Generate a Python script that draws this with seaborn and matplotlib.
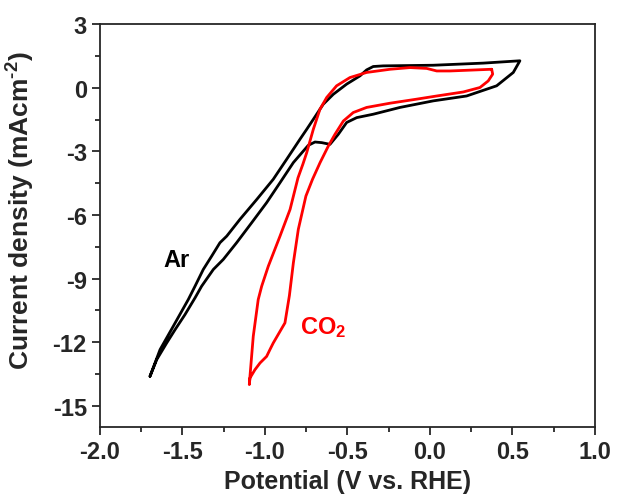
import pandas as pd
import matplotlib
matplotlib.use("Agg")
import matplotlib.pyplot as plt
import seaborn as sns
from matplotlib.ticker import MultipleLocator

# Cyclic voltammograms: potential (V vs. RHE) and current density (mA cm^-2)
ar_potential = [-1.697, -1.636, -1.556, -1.465, -1.424, -1.374, -1.323, -1.273, -1.232,
                -1.152, -1.050, -0.950, -0.869, -0.788, -0.747, -0.707, -0.647, -0.586,
                -0.505, -0.424, -0.384, -0.344, -0.283, 0.020, 0.323, 0.545,
                0.505, 0.404, 0.222, 0.020, -0.182, -0.344, -0.444, -0.505, -0.556,
                -0.606, -0.656, -0.697, -0.738, -0.828, -0.909, -0.990, -1.081, -1.172,
                -1.253, -1.313, -1.384, -1.424, -1.485, -1.545, -1.596, -1.656, -1.697]
ar_current = [-13.61, -12.35, -11.25, -9.99, -9.36, -8.57, -7.94, -7.31, -7.00,
              -6.21, -5.27, -4.32, -3.38, -2.43, -1.96, -1.49, -0.78, -0.31,
              0.17, 0.56, 0.84, 1.00, 1.03, 1.06, 1.16, 1.27,
              0.72, 0.09, -0.39, -0.62, -0.93, -1.25, -1.41, -1.64, -2.20,
              -2.67, -2.59, -2.56, -2.72, -3.53, -4.48, -5.42, -6.37, -7.31,
              -8.10, -8.57, -9.36, -9.91, -10.70, -11.41, -12.04, -12.82, -13.61]

co2_potential = [0.374, 0.121, 0.041, -0.020, -0.121, -0.242, -0.384, -0.485, -0.566,
                 -0.626, -0.667, -0.707, -0.747, -0.770, -0.800, -0.848, -0.909, -0.980,
                 -1.020, -1.041, -1.071, -1.091, -1.095,
                 -1.091, -1.061, -1.030, -0.990, -0.970, -0.950, -0.879, -0.852, -0.828,
                 -0.798, -0.752, -0.712, -0.666, -0.616, -0.576, -0.525, -0.465, -0.384,
                 -0.242, -0.081, 0.041, 0.202, 0.303, 0.353, 0.380, 0.374]
co2_current = [0.87, 0.79, 0.79, 0.91, 0.95, 0.87, 0.72, 0.48, 0.09,
               -0.46, -1.02, -1.96, -3.06, -3.60, -4.25, -5.74, -7.00, -8.42,
               -9.36, -9.99, -11.72, -13.61, -14.00,
               -13.69, -13.30, -12.98, -12.67, -12.35, -12.04, -11.09, -9.80, -8.26,
               -6.68, -5.11, -4.32, -3.53, -2.75, -2.20, -1.57, -1.17, -0.93,
               -0.73, -0.54, -0.39, -0.20, 0.01, 0.32, 0.64, 0.87]

gas_names = ["Ar", "CO$_\\mathbf{2}$"]
x_ticks = [-2.0, -1.5, -1.0, -0.5, 0.0, 0.5, 1.0]
y_ticks = [3, 0, -3, -6, -9, -12, -15]

df = pd.concat([
    pd.DataFrame({"E": ar_potential, "j": ar_current, "gas": "Ar"}),
    pd.DataFrame({"E": co2_potential, "j": co2_current, "gas": "CO2"}),
], ignore_index=True)

sns.set_style("ticks")
plt.rcParams["font.family"] = ["Liberation Sans", "DejaVu Sans"]
plt.rcParams["font.weight"] = "bold"
plt.rcParams["axes.unicode_minus"] = False
plt.rcParams["mathtext.fontset"] = "custom"
plt.rcParams["mathtext.rm"] = "Liberation Sans:bold"
plt.rcParams["mathtext.bf"] = "Liberation Sans:bold"
plt.rcParams["mathtext.default"] = "bf"

fig = plt.figure(figsize=(6.23, 5.02), dpi=100)
ax = fig.add_axes([0.1605, 0.1474, 0.7945, 0.8026])

sns.lineplot(data=df, x="E", y="j", hue="gas", estimator=None, sort=False,
             palette={"Ar": "black", "CO2": "#ff0000"}, linewidth=2.0,
             legend=False, ax=ax)
for line in ax.lines:
    line.set_solid_joinstyle("round")

ax.set_xlim(-2.0, 1.0)
ax.set_ylim(-16, 3)
ax.set_xticks(x_ticks)
ax.set_yticks(y_ticks)
ax.xaxis.set_minor_locator(MultipleLocator(0.25))
ax.yaxis.set_minor_locator(MultipleLocator(1.5))
ax.tick_params(which="major", direction="out", length=6, width=1.3, labelsize=17)
ax.tick_params(which="minor", direction="out", length=3.5, width=1.3)
for lbl in ax.get_xticklabels() + ax.get_yticklabels():
    lbl.set_fontweight("bold")
for s in ax.spines.values():
    s.set_linewidth(1.3)
    s.set_visible(True)

ax.set_xlabel("Potential (V vs. RHE)", fontsize=18, fontweight="bold", labelpad=4)
ax.set_ylabel("Current density (mAcm$^{\\text{-2}}$)", fontsize=19,
              fontweight="bold")
ax.yaxis.set_label_coords(-0.127, 0.54)

ax.text(-1.539, -8.08, gas_names[0], fontsize=17, fontweight="bold", color="black",
        ha="center", va="center")
ax.text(-0.648, -11.27, gas_names[1], fontsize=17, fontweight="bold", color="#ff0000",
        ha="center", va="center")

fig.savefig("out.png", dpi=100)
